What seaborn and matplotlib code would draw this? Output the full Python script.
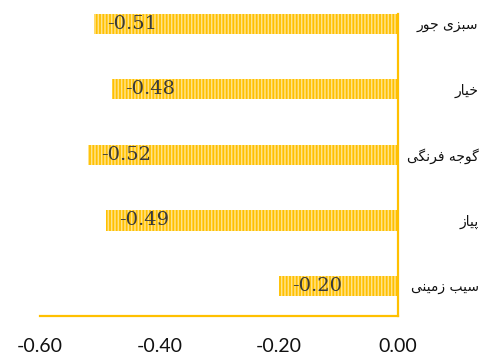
import matplotlib
matplotlib.use("Agg")
import matplotlib.pyplot as plt
import seaborn as sns
import pandas as pd

categories = ["سبزی جور", "خیار", "گوجه فرنگی", "پیاز", "سیب زمینی"]
values = [-0.51, -0.48, -0.52, -0.49, -0.20]
xticks = [-0.60, -0.40, -0.20, 0.00]

GOLD = "#FFC000"

# Arabic-script presentation forms: (isolated, final, initial, medial)
FORMS = {
    "ا": ("\uFE8D", "\uFE8E", None, None),
    "ب": ("\uFE8F", "\uFE90", "\uFE91", "\uFE92"),
    "پ": ("\uFB56", "\uFB57", "\uFB58", "\uFB59"),
    "ج": ("\uFE9D", "\uFE9E", "\uFE9F", "\uFEA0"),
    "خ": ("\uFEA5", "\uFEA6", "\uFEA7", "\uFEA8"),
    "ر": ("\uFEAD", "\uFEAE", None, None),
    "ز": ("\uFEAF", "\uFEB0", None, None),
    "س": ("\uFEB1", "\uFEB2", "\uFEB3", "\uFEB4"),
    "ف": ("\uFED1", "\uFED2", "\uFED3", "\uFED4"),
    "گ": ("\uFB92", "\uFB93", "\uFB94", "\uFB95"),
    "م": ("\uFEE1", "\uFEE2", "\uFEE3", "\uFEE4"),
    "ن": ("\uFEE5", "\uFEE6", "\uFEE7", "\uFEE8"),
    "ه": ("\uFEE9", "\uFEEA", "\uFEEB", "\uFEEC"),
    "و": ("\uFEED", "\uFEEE", None, None),
    "ی": ("\uFBFC", "\uFBFD", "\uFBFE", "\uFBFF"),
}


def shape(text):
    """Join Persian letters and reverse them for left-to-right drawing."""
    out = []
    for i, ch in enumerate(text):
        if ch not in FORMS:
            out.append(ch)
            continue
        prev = text[i - 1] if i > 0 else ""
        nxt = text[i + 1] if i + 1 < len(text) else ""
        joins_prev = prev in FORMS and FORMS[prev][2] is not None
        joins_next = nxt in FORMS and FORMS[ch][2] is not None
        iso, fin, ini, med = FORMS[ch]
        if joins_prev and joins_next:
            out.append(med)
        elif joins_prev:
            out.append(fin)
        elif joins_next:
            out.append(ini)
        else:
            out.append(iso)
    return "".join(reversed(out))


df = pd.DataFrame({"category": categories, "value": values})

plt.rcParams["hatch.linewidth"] = 1.1
fig = plt.figure(figsize=(5.03, 3.56), dpi=100)
ax = fig.add_axes([40 / 503, 40 / 356, 358 / 503, 302 / 356])

sns.barplot(data=df, x="value", y="category", orient="h", ax=ax,
            color=GOLD, width=0.31, saturation=1)

for patch in ax.patches:
    patch.set_facecolor(GOLD)
    patch.set_edgecolor("#FFE38A")
    patch.set_hatch("|||||")
    patch.set_linewidth(0)

for i, v in enumerate(values):
    ax.annotate(f"{v:.2f}", xy=(v, i), xytext=(10, 0), textcoords="offset points",
                ha="left", va="center", fontsize=14, color="#3a3a3a",
                family="DejaVu Serif")

ax.set_xlim(-0.60, 0.0)
ax.set_ylim(4.46, -0.15)
ax.set_xticks(xticks)
ax.set_xticklabels([f"{t:.2f}" for t in xticks], fontsize=14, family="Lato",
                   color="#111111")
ax.tick_params(axis="x", length=0, pad=16)

ax.yaxis.tick_right()
ax.set_yticks(range(len(categories)))
ax.set_yticklabels([shape(c) for c in categories], ha="right",
                   fontsize=10, family="DejaVu Sans", color="#111111")
ax.tick_params(axis="y", length=0, pad=58)

ax.set_xlabel("")
ax.set_ylabel("")
for side in ("left", "top"):
    ax.spines[side].set_visible(False)
for side in ("bottom", "right"):
    ax.spines[side].set_color(GOLD)
    ax.spines[side].set_linewidth(1.6)
ax.set_facecolor("white")

fig.savefig("out.png", dpi=100, facecolor="white")
